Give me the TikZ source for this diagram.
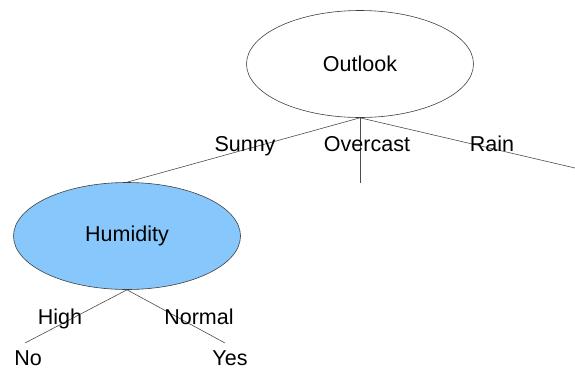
\documentclass[tikz,border=0pt]{standalone}
\usepackage{fontspec}
\setmainfont{Liberation Sans}
\usetikzlibrary{shapes.geometric}
\definecolor{humblue}{RGB}{135,199,251}
\begin{document}
\begin{tikzpicture}[x=1pt,y=-1pt,font=\fontsize{21.5}{24}\selectfont,
    attr/.style={ellipse,draw=black!75,line width=0.6pt,minimum width=227pt,minimum height=107pt,inner sep=0pt},
    lbl/.style={inner sep=0pt,anchor=base}]
  \useasboundingbox (0,0) rectangle (575,370);
  \draw
    (360,64) node[attr] (outlook){Outlook}
    (127,236) node[attr,fill=humblue] (humidity){Humidity};
  \coordinate (overcastend) at (360,183);
  \coordinate (rainend) at (575,168);
  \coordinate (noend) at (25,343);
  \coordinate (yesend) at (225,343);
  \begin{scope}[-,draw=black!70,line width=0.6pt]
    \draw (outlook.south) to (humidity.north);
    \draw (outlook.south) to (overcastend);
    \draw (outlook.south) to (rainend);
    \draw (humidity.south) to (noend);
    \draw (humidity.south) to (yesend);
  \end{scope}
  \draw
    (245,151.7) node[lbl] (sunny){Sunny}
    (367,151.7) node[lbl] (overcast){Overcast}
    (492,151.7) node[lbl] (rain){Rain}
    (60,324) node[lbl] (high){High}
    (199,324) node[lbl] (normal){Normal}
    (28,365.7) node[lbl] (no){No}
    (230,365.7) node[lbl] (yes){Yes};
\end{tikzpicture}
\end{document}
